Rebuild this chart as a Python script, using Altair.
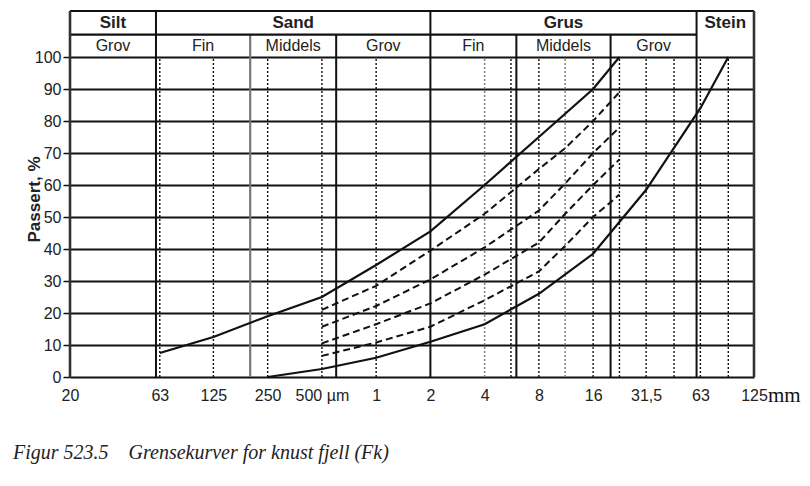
import altair as alt
import pandas as pd

# ---------------- data ----------------
# x tick values (mm) and their printed labels
tick_values = [0.02, 0.063, 0.125, 0.25, 0.5, 1, 2, 4, 8, 16, 31.5, 63, 125]
tick_labels = ["20", "63", "125", "250", "500 \u00b5m", "1", "2", "4", "8", "16", "31,5", "63", "125"]

# grading limit curves (size in mm, % passing)
upper_d = [0.063, 0.125, 0.25, 0.5, 1, 2, 4, 8, 16, 22.4]
upper_p = [7.5, 12.5, 19, 25, 35, 45.5, 60, 75, 90, 100]
lower_d = [0.25, 0.5, 1, 2, 4, 8, 16, 31.5, 63, 90]
lower_p = [0, 2.5, 6, 11, 16.5, 26, 38.5, 58.5, 84, 100]
dash_d = [0.5, 1, 2, 4, 8, 11.2, 16, 22.4]
dash1_p = [21, 28.5, 39.5, 51, 65, 71.5, 80, 89]
dash2_p = [15.7, 22.2, 30.5, 40.5, 52, 60.5, 70, 78]
dash3_p = [10.5, 16.5, 23, 32, 42, 51, 60, 68]
dash4_p = [6.6, 10.8, 15.7, 24, 33, 41, 50, 57]

# sieve sizes drawn as dotted verticals
sieves_dark = [0.063, 0.125, 0.25, 0.5, 1, 5.6, 8, 16, 22.4, 31.5, 45, 63, 90]
sieves_light = [4, 11.2]

# fraction boundaries (mm)
main_bounds = [0.06, 2, 60]
sub_bounds = [0.6, 6, 20]
gray_bounds = [0.2]
frame_bounds = [0.02, 125]

# header labels
top_names = ["Silt", "Sand", "Grus", "Stein"]
top_spans = [(0.02, 0.06), (0.06, 2), (2, 60), (60, 125)]
sub_names = ["Grov", "Fin", "Middels", "Grov", "Fin", "Middels", "Grov"]
sub_spans = [(0.02, 0.06), (0.06, 0.2), (0.2, 0.6), (0.6, 2), (2, 6), (6, 20), (20, 60)]

y_ticks = list(range(0, 101, 10))

# ---------------- layout constants ----------------
TOP = 114.375      # top of header (in % units of the y scale)
SPLIT = 107.0      # line between the two header rows
FONT = "Liberation Sans"

xs = alt.Scale(type="log", domain=[0.02, 125], nice=False)
ys = alt.Scale(domain=[0, TOP], nice=False, zero=False)

label_expr = ""
for v, t in zip(tick_values, tick_labels):
    label_expr += f"abs(datum.value - {v}) < 1e-6 ? '{t}' : "
label_expr += "''"

X_AXIS = alt.Axis(
    values=tick_values, labelExpr=label_expr, grid=False, domain=False, ticks=False,
    labelPadding=10, labelFont=FONT, labelFontSize=16, labelColor="#222",
    labelBaseline="top", labelFlush=False, title=None)
Y_AXIS = alt.Axis(
    values=y_ticks, grid=True, gridColor="#111", gridWidth=2, domain=False,
    ticks=True, tickSize=7, tickColor="#111", tickWidth=1.5,
    labelPadding=2, labelFont=FONT, labelFontSize=16, labelColor="#222",
    title="Passert, %", titleFont=FONT, titleFontSize=17, titleFontWeight="bold",
    titleColor="#222", titleAngle=270, titleX=-36, titleY=188,
    titleAlign="center", titleBaseline="middle")


def curve_df(ds, ps, name):
    return pd.DataFrame({"d": ds, "p": ps, "curve": name, "o": range(len(ds))})


solid = pd.concat([curve_df(upper_d, upper_p, "upper"), curve_df(lower_d, lower_p, "lower")])
dashed = pd.concat([
    curve_df(dash_d, dash1_p, "d1"), curve_df(dash_d, dash2_p, "d2"),
    curve_df(dash_d, dash3_p, "d3"), curve_df(dash_d, dash4_p, "d4"),
])


def X(f="d"):
    return alt.X(f"{f}:Q", scale=xs, axis=X_AXIS)


def Y(f):
    return alt.Y(f"{f}:Q", scale=ys, axis=Y_AXIS)


def vrules(vals, y2, color, width, dash=None):
    df = pd.DataFrame({"d": vals, "y0": 0.0, "y1": y2})
    kw = dict(color=color, strokeWidth=width)
    if dash:
        kw["strokeDash"] = dash
    return alt.Chart(df).mark_rule(**kw).encode(x=X(), y=Y("y0"), y2="y1:Q")


dots_dark = vrules(sieves_dark, 100, "#111", 1.4, [2, 2])
dots_light = vrules(sieves_light, 100, "#8a8a8a", 1.6, [2, 2])
b_main = vrules(main_bounds, TOP, "#111", 2)
b_sub = vrules(sub_bounds, SPLIT, "#111", 2)
b_gray = vrules(gray_bounds, SPLIT, "#777", 2.2)
b_frame = vrules(frame_bounds, TOP, "#333", 2.6)

hdf = pd.DataFrame({"a": [0.02, 0.02], "b": [60, 125], "y": [SPLIT, TOP]})
hrules = alt.Chart(hdf).mark_rule(color="#111", strokeWidth=2.2).encode(
    x=X("a"), x2="b:Q", y=Y("y"))

solid_lines = alt.Chart(solid).mark_line(color="#111", strokeWidth=2.2).encode(
    x=X(), y=Y("p"), detail="curve:N", order="o:Q")
dashed_lines = alt.Chart(dashed).mark_line(color="#111", strokeWidth=2.0, strokeDash=[7, 4]).encode(
    x=X(), y=Y("p"), detail="curve:N", order="o:Q")

top_df = pd.DataFrame({
    "t": top_names,
    "d": [(a * b) ** 0.5 for a, b in top_spans],
    "y": (TOP + SPLIT) / 2,
})
sub_df = pd.DataFrame({
    "t": sub_names,
    "d": [(a * b) ** 0.5 for a, b in sub_spans],
    "y": (SPLIT + 100) / 2,
})
top_text = alt.Chart(top_df).mark_text(font=FONT, fontSize=17, fontWeight="bold", color="#222",
                                       baseline="middle").encode(x=X(), y=Y("y"), text="t:N")
sub_text = alt.Chart(sub_df).mark_text(font=FONT, fontSize=16, color="#222",
                                       baseline="middle").encode(x=X(), y=Y("y"), text="t:N")

mm_text = alt.Chart(pd.DataFrame({"d": [125], "p": [0], "t": ["mm"]})).mark_text(
    font="Liberation Serif", fontSize=21, color="#111", align="left", baseline="alphabetic",
    dx=14, dy=25).encode(x=X(), y=Y("p"), text="t:N")

chart = alt.layer(
    dots_dark, dots_light, b_gray, b_sub, b_main, hrules, b_frame,
    dashed_lines, solid_lines, top_text, sub_text, mm_text,
).properties(
    width=684, height=366,
    autosize=alt.AutoSizeParams(type="none"),
    padding={"left": 62, "top": 3, "right": 48, "bottom": 100},
    title=alt.TitleParams(
        text="Figur 523.5\u00a0\u00a0\u00a0\u00a0Grensekurver for knust fjell (Fk)",
        orient="bottom", anchor="start", frame="group", dx=-57, offset=37,
        font="Liberation Serif", fontStyle="italic", fontWeight="normal",
        fontSize=20, color="#222"),
).configure_view(stroke=None).configure(background="white")

chart.save("out.html", embed_options={"renderer": "svg", "actions": False})
